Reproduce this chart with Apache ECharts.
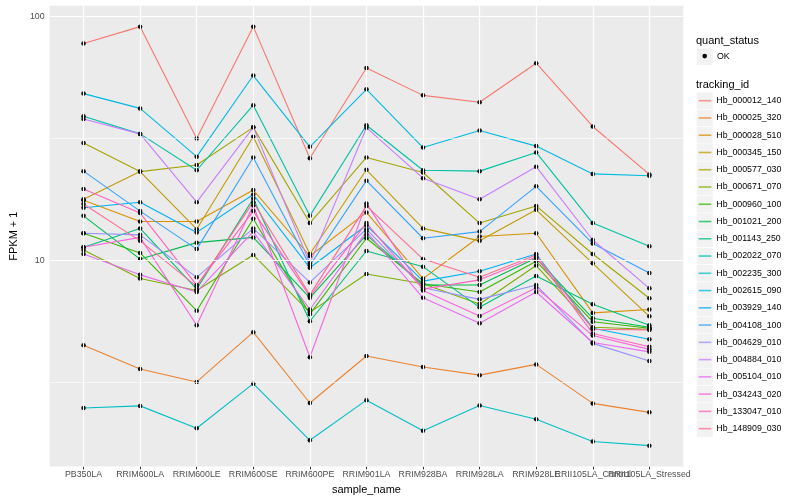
<!DOCTYPE html>
<html><head><meta charset="utf-8">
<script src="https://cdn.jsdelivr.net/npm/echarts@6/dist/echarts.min.js"></script>
<style>html,body{margin:0;padding:0;background:#fff}#c{width:800px;height:500px}</style>
</head><body><div id="c"></div>
<script>
const categories = ['PB350LA','RRIM600LA','RRIM600LE','RRIM600SE','RRIM600PE','RRIM901LA','RRIM928BA','RRIM928LA','RRIM928LE','RRII105LA_Control','RRII105LA_Stressed'];
const trackingIds = ['Hb_000012_140','Hb_000025_320','Hb_000028_510','Hb_000345_150','Hb_000577_030','Hb_000671_070','Hb_000960_100','Hb_001021_200','Hb_001143_250','Hb_002022_070','Hb_002235_300','Hb_002615_090','Hb_003929_140','Hb_004108_100','Hb_004629_010','Hb_004884_010','Hb_005104_010','Hb_034243_020','Hb_133047_010','Hb_148909_030'];
const colors = ['#F8766D','#EA8331','#D89000','#C09B00','#A3A500','#7CAE00','#39B600','#00BB4E','#00BF7D','#00C1A3','#00BFC4','#00BAE0','#00B0F6','#35A2FF','#9590FF','#C77CFF','#E76BF3','#FA62DB','#FF62BC','#FF6C91'];
const yTickLabels = [10, 100];

const Hb_000012_140 = [77.6, 91, 31.6, 91, 26.2, 61.5, 47.5, 44.5, 64.4, 35.4, 22.5];
const Hb_000025_320 = [4.47, 3.57, 3.16, 5.06, 2.59, 4.04, 3.64, 3.37, 3.73, 2.58, 2.37];
const Hb_000028_510 = [17.6, 14.4, 14.4, 19.4, 10.4, 15.7, 8.4, 12.5, 12.9, 6.07, 6.27];
const Hb_000345_150 = [17.8, 23.1, 13.4, 32.1, 10.6, 23.5, 13.5, 12.0, 16.1, 9.7, 5.88];
const Hb_000577_030 = [30.3, 23.1, 24.6, 35.1, 14.2, 26.4, 22.9, 14.2, 16.7, 10.6, 6.97];
const Hb_000671_070 = [11.0, 8.4, 7.5, 10.5, 6.1, 8.77, 8.0, 6.6, 9.5, 5.3, 5.2];
const Hb_000960_100 = [12.9, 10.7, 6.2, 14.8, 6.0, 12.3, 8.0, 7.4, 9.9, 5.58, 5.25];
const Hb_001021_200 = [15.2, 10.1, 11.8, 12.4, 7.0, 12.7, 7.9, 7.9, 10.2, 5.77, 5.3];
const Hb_001143_250 = [11.3, 13.5, 7.6, 17.9, 5.61, 10.9, 9.4, 6.4, 8.6, 6.59, 5.4];
const Hb_002022_070 = [39.0, 33.0, 23.4, 43.3, 15.2, 35.8, 23.4, 23.2, 27.7, 14.2, 11.4];
const Hb_002235_300 = [2.47, 2.52, 2.04, 3.11, 1.82, 2.66, 1.99, 2.53, 2.22, 1.80, 1.73];
const Hb_002615_090 = [48.3, 42, 26.6, 57.3, 29.2, 50.3, 29.0, 34.1, 29.4, 22.6, 22.2];
const Hb_003929_140 = [16.4, 17.3, 13.0, 18.6, 9.3, 13.9, 8.2, 9.0, 10.6, 5.25, 4.73];
const Hb_004108_100 = [23.2, 15.9, 11.1, 26.4, 9.5, 21.2, 12.3, 13.1, 20.1, 11.7, 8.85];
const Hb_004629_010 = [12.9, 12.7, 8.5, 13.5, 8.1, 13.4, 7.7, 6.9, 7.9, 4.55, 3.85];
const Hb_004884_010 = [38.0, 33.0, 17.3, 35.1, 9.7, 35.0, 21.7, 17.8, 24.2, 12.1, 7.66];
const Hb_005104_010 = [10.6, 8.7, 7.4, 13.1, 6.27, 13.1, 7.0, 5.5, 7.4, 4.59, 4.2];
const Hb_034243_020 = [11.3, 12.4, 5.4, 16.8, 3.99, 17.1, 7.5, 5.9, 7.7, 4.9, 4.3];
const Hb_133047_010 = [19.6, 15.6, 7.9, 15.9, 7.1, 14.2, 7.6, 8.3, 10.3, 5.0, 4.41];
const Hb_148909_030 = [17.0, 12.0, 7.8, 17.3, 7.2, 16.7, 10.1, 8.5, 10.5, 5.2, 5.17];

const seriesValues = [Hb_000012_140, Hb_000025_320, Hb_000028_510, Hb_000345_150, Hb_000577_030, Hb_000671_070, Hb_000960_100, Hb_001021_200, Hb_001143_250, Hb_002022_070, Hb_002235_300, Hb_002615_090, Hb_003929_140, Hb_004108_100, Hb_004629_010, Hb_004884_010, Hb_005104_010, Hb_034243_020, Hb_133047_010, Hb_148909_030];

const FONT = 'Liberation Sans, Arial, Helvetica, sans-serif';
const chart = echarts.init(document.getElementById('c'), null, {renderer: 'canvas'});

const lineSeries = trackingIds.map((id, k) => ({
  type: 'line', name: id, z: 2, silent: true, animation: false,
  symbol: 'none', showSymbol: false,
  data: seriesValues[k].map((v, i) => [i, v]),
  lineStyle: {color: colors[k], width: 1.1},
  itemStyle: {color: colors[k]},
  emphasis: {disabled: true}
}));

const pointData = [];
seriesValues.forEach(arr => arr.forEach((v, i) => pointData.push([i, v])));

const catIdx = categories.map((c, i) => i);
const catIdxEven = catIdx.filter(i => i !== 9);
const catIdxOdd = [9];
const major = {color: '#FFFFFF', width: 1.2, type: 'solid'};
const minor = {color: '#FFFFFF', width: 0.6, type: 'solid'};
const gridLines = [
  {yAxis: Math.pow(10, 0.5), lineStyle: minor},
  {yAxis: 10, lineStyle: major},
  {yAxis: Math.pow(10, 1.5), lineStyle: minor},
  {yAxis: 100, lineStyle: major}
].concat(catIdx.map(i => ({xAxis: i, lineStyle: major})));

const KEY_STEP = 17.26;
const keyRects = [{type: 'rect', shape: {x: 696.7, y: 48.4, width: 16, height: 16.6}, style: {fill: '#F2F2F2'}, z: 0}]
  .concat(trackingIds.map((id, k) => ({type: 'rect', shape: {x: 696.7, y: 92.4 + k * KEY_STEP, width: 16, height: 16.6}, style: {fill: '#F2F2F2'}, z: 0})));

const lineIcon = 'path://M0,0 M12.6,17 M0,7.7 L12.6,7.7 L12.6,9.3 L0,9.3 Z';

const labelStyle = {fontSize: 8.8, color: '#4D4D4D', margin: 3.5, hideOverlap: false, showMinLabel: true, showMaxLabel: true,
  formatter: v => categories[Math.round(v)]};

chart.setOption({
  animation: false,
  textStyle: {fontFamily: FONT},
  title: [
    {text: 'quant_status', left: 696, top: 35.6, padding: 0, textStyle: {fontSize: 11, fontWeight: 'normal', color: '#000', fontFamily: FONT}},
    {text: 'tracking_id', left: 696, top: 79.4, padding: 0, textStyle: {fontSize: 11, fontWeight: 'normal', color: '#000', fontFamily: FONT}}
  ],
  graphic: keyRects,
  legend: [
    {data: ['OK'], orient: 'vertical', left: 702.4, top: 51.6, padding: 0, itemWidth: 4.6, itemHeight: 4.6, icon: 'circle',
     selectedMode: false, textStyle: {fontSize: 8.8, color: '#000', padding: [0, 0, 0, 5], fontFamily: FONT}},
    {data: trackingIds, orient: 'vertical', left: 698.7, top: 92.2, padding: 0, itemWidth: 12.6, itemHeight: 17, itemGap: 0.26,
     icon: lineIcon, symbolKeepAspect: false, itemStyle: {opacity: 0.75},
     selectedMode: false, textStyle: {fontSize: 8.8, color: '#000', fontFamily: FONT}}
  ],
  grid: {left: 40, right: 116.7, top: 5.7, bottom: 31.3, show: true, backgroundColor: '#EBEBEB', borderWidth: 0, containLabel: false},
  xAxis: [{
    type: 'value', min: -0.6, max: 10.6, position: 'bottom',
    name: 'sample_name', nameLocation: 'middle', nameGap: 14.5,
    nameTextStyle: {fontSize: 11, color: '#000', fontFamily: FONT},
    axisLine: {show: false},
    splitLine: {show: false},
    axisTick: {show: true, customValues: catIdx, length: 2.75, lineStyle: {color: '#333333', width: 1}},
    axisLabel: Object.assign({customValues: catIdxEven}, labelStyle)
  }, {
    type: 'value', min: -0.6, max: 10.6, position: 'bottom', offset: 0,
    axisLine: {show: false},
    splitLine: {show: false},
    axisTick: {show: false},
    axisLabel: Object.assign({customValues: catIdxOdd}, labelStyle)
  }],
  yAxis: {
    type: 'log', logBase: 10, min: Math.pow(10, 0.152), max: Math.pow(10, 2.045),
    name: 'FPKM + 1', nameLocation: 'middle', nameGap: 22,
    nameTextStyle: {fontSize: 11, color: '#000', fontFamily: FONT},
    axisLine: {show: false},
    splitLine: {show: false},
    axisTick: {show: true, customValues: yTickLabels, length: 2.75, lineStyle: {color: '#333333', width: 1}},
    axisLabel: {customValues: yTickLabels, formatter: v => String(Math.round(v)), fontSize: 8.8, color: '#4D4D4D', margin: 5}
  },
  series: [
    {type: 'line', name: '_grid', data: [], z: 1, silent: true,
     markLine: {silent: true, symbol: ['none', 'none'], label: {show: false}, animation: false, emphasis: {disabled: true}, data: gridLines}}
  ].concat(lineSeries).concat([
    {type: 'scatter', name: 'OK', z: 3, silent: true, animation: false, symbol: 'circle', symbolSize: 4.5,
     data: pointData, itemStyle: {color: '#000000', opacity: 1}, emphasis: {disabled: true}}
  ])
});
</script></body></html>
